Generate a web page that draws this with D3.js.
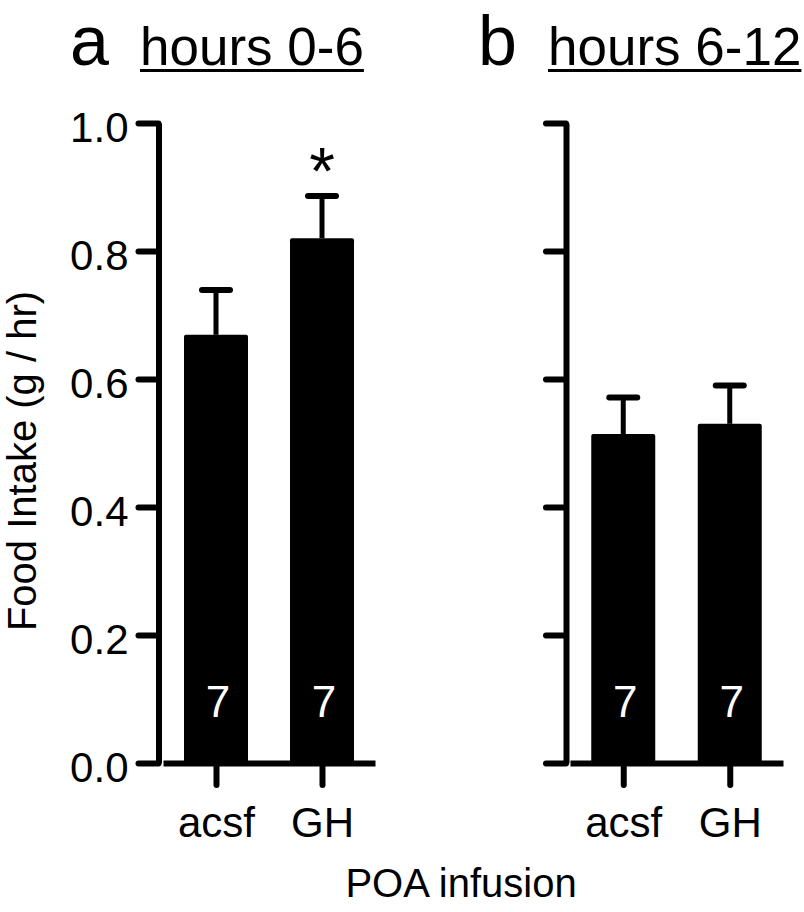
<!DOCTYPE html>
<html>
<head>
<meta charset="utf-8">
<script src="https://cdn.jsdelivr.net/npm/d3@7"></script>
<style>
  body { margin: 0; background: #fff; }
  svg { display: block; font-family: "Liberation Sans", Arial, sans-serif; }
</style>
</head>
<body>
<svg id="chart"></svg>
<script>
// data
var groups = ["acsf", "GH"]
var panelLetters = ["a", "b"]
var panelTitles = ["hours 0-6", "hours 6-12"]
var meansA = [0.669, 0.820]
var semA = [0.070, 0.066]
var meansB = [0.514, 0.530]
var semB = [0.057, 0.060]
var nLabels = [7, 7]
var sigA = [false, true]
var yTicks = [0, 0.2, 0.4, 0.6, 0.8, 1.0]

var screen = {width: 804, height: 912}
var svg = d3.select("#chart")
    .attr("width", screen.width)
    .attr("height", screen.height)

var yScale = d3.scaleLinear()
    .domain([0, 1])
    .range([763, 123])

var panels = [
  {letter: panelLetters[0], title: panelTitles[0], means: meansA, sem: semA, sig: sigA,
   axisX: 158.5, range: [163, 375], labels: true, letterX: 70, titleX: 140},
  {letter: panelLetters[1], title: panelTitles[1], means: meansB, sem: semB, sig: [false, false],
   axisX: 566, range: [570, 783], labels: false, letterX: 478, titleX: 548}
]

var barW = 64

panels.forEach(function(p) {
  var xScale = d3.scalePoint()
      .domain(groups)
      .range(p.range)
      .padding(0.5)

  var g = svg.append("g")

  // y axis
  var yAxis = d3.axisLeft(yScale)
      .tickValues(yTicks)
      .tickSize(20)
      .tickSizeOuter(0)
      .tickFormat(p.labels ? d3.format(".1f") : "")
  var ya = g.append("g")
      .attr("transform", "translate(" + p.axisX + ",0)")
      .call(yAxis)
  ya.select(".domain").attr("stroke-width", 6).attr("stroke", "#000")
  ya.selectAll(".tick line").attr("stroke-width", 6).attr("stroke-linecap", "round").attr("stroke", "#000")
  ya.selectAll(".tick text")
      .attr("font-size", 42)
      .attr("x", -30)
      .attr("dy", "0.43em")
      .attr("fill", "#000")
      .attr("font-family", "Liberation Sans, Arial, sans-serif")

  // bars
  var data = groups.map(function(k, i) {
    return {name: k, mean: p.means[i], sem: p.sem[i], n: nLabels[i], sig: p.sig[i]}
  })

  g.selectAll("rect.bar")
      .data(data)
      .enter()
      .append("rect")
      .attr("class", "bar")
      .attr("x", function(d) { return xScale(d.name) - barW / 2 })
      .attr("y", function(d) { return yScale(d.mean) })
      .attr("width", barW)
      .attr("height", function(d) { return yScale(0) - yScale(d.mean) })
      .attr("rx", 2)
      .attr("fill", "#000")

  // error bars
  g.selectAll("line.err")
      .data(data)
      .enter()
      .append("line")
      .attr("x1", function(d) { return xScale(d.name) })
      .attr("x2", function(d) { return xScale(d.name) })
      .attr("y1", function(d) { return yScale(d.mean) })
      .attr("y2", function(d) { return yScale(d.mean + d.sem) })
      .attr("stroke", "#000")
      .attr("stroke-width", 5)
  g.selectAll("line.cap")
      .data(data)
      .enter()
      .append("line")
      .attr("x1", function(d) { return xScale(d.name) - 14 })
      .attr("x2", function(d) { return xScale(d.name) + 14 })
      .attr("y1", function(d) { return yScale(d.mean + d.sem) })
      .attr("y2", function(d) { return yScale(d.mean + d.sem) })
      .attr("stroke", "#000")
      .attr("stroke-width", 6)
      .attr("stroke-linecap", "round")

  // n inside bars
  g.selectAll("text.n")
      .data(data)
      .enter()
      .append("text")
      .attr("x", function(d) { return xScale(d.name) + 2 })
      .attr("y", 717)
      .attr("text-anchor", "middle")
      .attr("font-size", 44)
      .attr("fill", "#fff")
      .text(function(d) { return d.n })

  // significance
  g.selectAll("text.sig")
      .data(data.filter(function(d) { return d.sig }))
      .enter()
      .append("text")
      .attr("x", function(d) { return xScale(d.name) })
      .attr("y", function(d) { return yScale(d.mean + d.sem) - 2 })
      .attr("text-anchor", "middle")
      .attr("font-size", 66)
      .attr("fill", "#000")
      .text("*")

  // x axis
  var xAxis = d3.axisBottom(xScale)
      .tickSize(22)
      .tickSizeOuter(0)
  var xa = g.append("g")
      .attr("transform", "translate(0," + yScale(0) + ")")
      .call(xAxis)
  xa.select(".domain").attr("stroke-width", 6).attr("stroke", "#000")
  xa.selectAll(".tick line").attr("stroke-width", 6).attr("stroke-linecap", "round").attr("stroke", "#000")
  xa.selectAll(".tick text")
      .attr("font-size", 42)
      .attr("y", 74)
      .attr("dy", 0)
      .attr("fill", "#000")
      .attr("font-family", "Liberation Sans, Arial, sans-serif")

  // panel letter and underlined title
  svg.append("text")
      .attr("x", p.letterX)
      .attr("y", 65)
      .attr("font-size", 70)
      .text(p.letter)
  var t = svg.append("text")
      .attr("x", p.titleX)
      .attr("y", 65)
      .attr("font-size", 53)
      .text(p.title)
  var len = t.node().getComputedTextLength()
  svg.append("line")
      .attr("x1", p.titleX)
      .attr("x2", p.titleX + len)
      .attr("y1", 70.5)
      .attr("y2", 70.5)
      .attr("stroke", "#000")
      .attr("stroke-width", 3)
})

// axis titles
svg.append("text")
    .attr("transform", "translate(36,461) rotate(-90)")
    .attr("text-anchor", "middle")
    .attr("font-size", 40)
    .text("Food Intake (g / hr)")

svg.append("text")
    .attr("x", 461)
    .attr("y", 897)
    .attr("text-anchor", "middle")
    .attr("font-size", 40)
    .text("POA infusion")
</script>
</body>
</html>
